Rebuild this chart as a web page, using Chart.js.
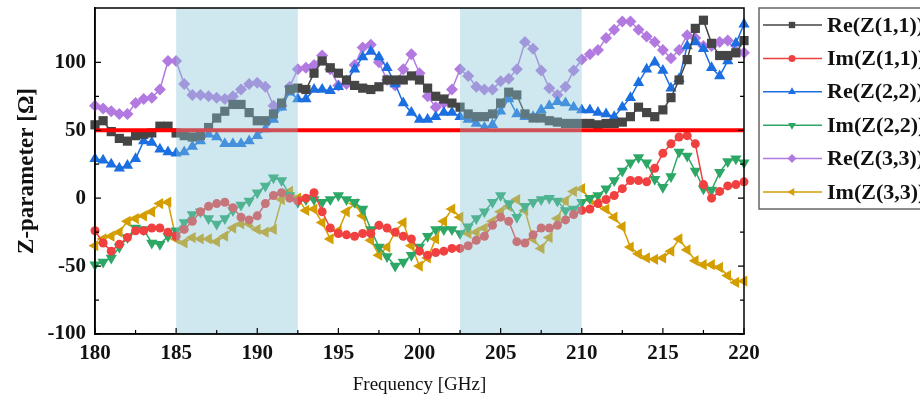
<!DOCTYPE html>
<html>
<head>
<meta charset="utf-8">
<script src="https://cdn.jsdelivr.net/npm/chart.js@4.4.0/dist/chart.umd.min.js"></script>
<style>
  html, body { margin: 0; padding: 0; background: #fff; overflow: hidden; }
  #wrap { width: 920px; height: 400px; }
</style>
</head>
<body>
<div id="wrap"><canvas id="zChart" width="920" height="400"></canvas></div>
<script>
  'use strict';

  // frequency points [GHz]
  var freq = [180, 180.5, 181, 181.5, 182, 182.5, 183, 183.5, 184, 184.5,
              185, 185.5, 186, 186.5, 187, 187.5, 188, 188.5, 189, 189.5,
              190, 190.5, 191, 191.5, 192, 192.5, 193, 193.5, 194, 194.5,
              195, 195.5, 196, 196.5, 197, 197.5, 198, 198.5, 199, 199.5,
              200, 200.5, 201, 201.5, 202, 202.5, 203, 203.5, 204, 204.5,
              205, 205.5, 206, 206.5, 207, 207.5, 208, 208.5, 209, 209.5,
              210, 210.5, 211, 211.5, 212, 212.5, 213, 213.5, 214, 214.5,
              215, 215.5, 216, 216.5, 217, 217.5, 218, 218.5, 219, 219.5, 220];

  var reZ11 = [54, 57, 49, 44, 42, 46, 47, 48, 53, 53,
               48, 46, 45, 46, 52, 59, 64, 69, 69, 63,
               57, 57, 62, 70, 80, 81, 80, 92, 101, 96,
               92, 87, 83, 81, 80, 82, 87, 87, 87, 90,
               87, 81, 75, 73, 70, 67, 62, 60, 60, 62,
               70, 78, 76, 62, 59, 59, 57, 56, 55, 55,
               55, 55, 54, 55, 55, 56, 60, 67, 63, 60,
               65, 74, 87, 102, 125, 131, 114, 105, 105, 107, 116];

  var imZ11 = [-24, -33, -39, -34, -29, -24, -24, -22, -22, -25,
               -28, -23, -17, -10, -6, -4, -3, -7, -14, -16,
               -13, -4, 2, 4, 0, -2, 0, 4, -10, -22,
               -26, -27, -28, -26, -26, -20, -22, -25, -28, -30,
               -39, -42, -40, -39, -37, -37, -35, -31, -28, -20,
               -14, -17, -32, -33, -27, -22, -22, -20, -16, -12,
               -9, -8, -4, -1, 2, 7, 13, 13, 12, 22,
               33, 40, 45, 46, 40, 10, 0, 5, 9, 10, 12];

  var reZ22 = [29, 28, 25, 22, 24, 29, 42, 41, 36, 34,
               33, 34, 38, 42, 47, 45, 40, 40, 40, 42,
               46, 51, 58, 67, 78, 73, 73, 80, 80, 79,
               82, 86, 95, 104, 108, 104, 96, 84, 70, 63,
               58, 58, 60, 63, 63, 60, 58, 55, 52, 54,
               64, 73, 62, 60, 60, 65, 68, 71, 70, 67,
               65, 65, 63, 62, 60, 67, 74, 85, 95, 100,
               94, 81, 88, 112, 115, 110, 96, 90, 101, 114, 128];

  var imZ22 = [-49, -47, -44, -36, -29, -22, -23, -33, -34, -28,
               -24, -18, -12, -10, -15, -19, -15, -9, -5, -2,
               4, 9, 15, 13, 2, -3, -1, -1, -3, -1,
               2, -1, -3, -8, -23, -36, -43, -50, -47, -42,
               -36, -28, -23, -23, -23, -26, -21, -15, -10, -3,
               2, -4, -14, -6, -3, -1, 0, -2, -9, -8,
               -3, 0, 2, 7, 13, 20, 26, 30, 26, 14,
               8, 16, 34, 31, 20, 7, 6, 19, 27, 29, 26];

  var reZ33 = [68, 66, 64, 62, 62, 70, 73, 74, 80, 101,
               101, 84, 76, 76, 75, 74, 73, 75, 80, 84,
               85, 82, 68, 68, 82, 95, 96, 98, 105, 95,
               83, 84, 98, 111, 113, 100, 87, 83, 95, 106,
               92, 75, 67, 70, 80, 95, 90, 82, 80, 80,
               86, 88, 95, 115, 110, 94, 81, 76, 82, 94,
               102, 106, 109, 118, 124, 130, 130, 124, 119, 115,
               109, 103, 109, 120, 118, 112, 112, 115, 116, 108, 107];

  var imZ33 = [-35, -30, -28, -25, -17, -15, -13, -10, -4, -3,
               -30, -33, -29, -30, -30, -32, -28, -22, -19, -19,
               -23, -25, -23, -1, 5, 0, -9, -8, -18, -30,
               -24, -10, -4, -13, -31, -42, -36, -25, -18, -35,
               -50, -44, -30, -17, -8, -14, -26, -25, -22, -17,
               -10, -6, -1, -9, -30, -37, -29, -15, -2, 5,
               7, -1, -4, -8, -14, -21, -36, -41, -44, -45,
               -44, -39, -30, -38, -46, -49, -49, -51, -57, -62, -61];

  var refLine = 50;                        // red reference line [Ohm]
  var bands = [[185, 192.5], [202.5, 210]]; // shaded bands [GHz]

  var serif = "'Liberation Serif', 'Times New Roman', serif";

  function series(label, values, color, style, rotation, radius) {
    return {
      label: label,
      data: values.map(function(v, i) { return {x: freq[i], y: v}; }),
      borderColor: color,
      backgroundColor: color,
      borderWidth: 1.5,
      pointStyle: style,
      pointRotation: rotation,
      pointRadius: radius,
      pointBorderWidth: 0,
      pointHoverRadius: radius,
      tension: 0,
      clip: false
    };
  }

  var datasets = [
    series('Re(Z(1,1))', reZ11, '#454545', 'rect', 0, 6.5),
    series('Im(Z(1,1))', imZ11, '#f0403f', 'circle', 0, 4.5),
    series('Re(Z(2,2))', reZ22, '#1c6fe0', 'triangle', 0, 6.5),
    series('Im(Z(2,2))', imZ22, '#2ca765', 'triangle', 180, 6.5),
    series('Re(Z(3,3))', reZ33, '#b27ae0', 'rectRot', 0, 6),
    series('Im(Z(3,3))', imZ33, '#d49e00', 'triangle', 270, 6.5)
  ];

  // ref line + shaded bands + frame and inward ticks
  var overlay = {
    id: 'overlay',
    afterDatasetsDraw: function(chart) {
      var ctx = chart.ctx;
      var a = chart.chartArea;
      var xs = chart.scales.x;
      var ys = chart.scales.y;
      ctx.save();

      var yRef = ys.getPixelForValue(refLine);
      ctx.strokeStyle = '#ff0000';
      ctx.lineWidth = 4;
      ctx.beginPath();
      ctx.moveTo(a.left, yRef);
      ctx.lineTo(a.right, yRef);
      ctx.stroke();

      ctx.fillStyle = 'rgba(135, 197, 215, 0.4)';
      bands.forEach(function(b) {
        var x0 = xs.getPixelForValue(b[0]);
        var x1 = xs.getPixelForValue(b[1]);
        ctx.fillRect(x0, a.top, x1 - x0, a.bottom - a.top);
      });

      ctx.strokeStyle = '#000';
      ctx.lineWidth = 1.5;
      ctx.strokeRect(a.left, a.top, a.right - a.left, a.bottom - a.top);

      ctx.lineWidth = 1.2;
      ctx.beginPath();
      ys.ticks.forEach(function(t) {
        var y = ys.getPixelForValue(t.value);
        var len = (t.value % 50 === 0) ? 6 : 4;
        ctx.moveTo(a.left, y); ctx.lineTo(a.left + len, y);
        ctx.moveTo(a.right, y); ctx.lineTo(a.right - len, y);
      });
      xs.ticks.forEach(function(t) {
        var x = xs.getPixelForValue(t.value);
        var len = (t.value % 5 === 0) ? 6 : 4;
        ctx.moveTo(x, a.bottom); ctx.lineTo(x, a.bottom - len);
      });
      ctx.stroke();
      ctx.restore();
    }
  };

  // legend box on the right, runs past the canvas edge like the original
  var sideLegend = {
    id: 'sideLegend',
    afterDraw: function(chart) {
      var ctx = chart.ctx;
      var left = 759, top = 8, rowH = 33.4;
      ctx.save();
      ctx.strokeStyle = '#666';
      ctx.lineWidth = 1.5;
      ctx.strokeRect(left, top, 200, 201);
      ctx.font = 'bold 22px ' + serif;
      ctx.textBaseline = 'middle';
      chart.data.datasets.forEach(function(ds, i) {
        var y = top + 17 + i * rowH;
        ctx.strokeStyle = ds.borderColor;
        ctx.fillStyle = ds.borderColor;
        ctx.lineWidth = 1.5;
        ctx.beginPath();
        ctx.moveTo(763, y);
        ctx.lineTo(822, y);
        ctx.stroke();
        Chart.helpers.drawPoint(ctx, {
          pointStyle: ds.pointStyle,
          rotation: ds.pointRotation,
          radius: ds.pointStyle === 'circle' ? 3.5 : 4.5,
          borderWidth: 0
        }, 792, y);
        ctx.fillStyle = '#111';
        ctx.fillText(ds.label, 827, y + 1);
      });
      ctx.restore();
    }
  };

  var ctxZ = document.getElementById('zChart').getContext('2d');
  var zChart = new Chart(ctxZ, {
    type: 'line',
    data: { datasets: datasets },
    options: {
      responsive: false,
      animation: false,
      layout: { padding: { left: 0, top: 8, right: 176, bottom: 0 } },
      plugins: {
        legend: { display: false },
        tooltip: { enabled: false }
      },
      scales: {
        x: {
          type: 'linear',
          min: 180,
          max: 220,
          grid: { display: false, drawTicks: false },
          border: { display: true, color: '#000', width: 1.5 },
          ticks: {
            stepSize: 2.5,
            autoSkip: false,
            maxRotation: 0,
            padding: 7,
            color: '#111',
            font: { family: serif, size: 21, weight: 'bold' },
            callback: function(v) { return v % 5 === 0 ? v : ''; }
          },
          title: {
            display: true,
            text: 'Frequency [GHz]',
            color: '#111',
            font: { family: serif, size: 19 },
            padding: { top: 10, bottom: 4 }
          },
          afterFit: function(s) {
            s.height = 66;
            s.paddingLeft = 0;
            s.paddingRight = 0;
          }
        },
        y: {
          type: 'linear',
          min: -100,
          max: 140,
          grid: { display: false, drawTicks: false },
          border: { display: true, color: '#000', width: 1.5 },
          ticks: {
            stepSize: 25,
            autoSkip: false,
            padding: 9,
            color: '#111',
            font: { family: serif, size: 21, weight: 'bold' },
            callback: function(v) { return v % 50 === 0 ? v : ''; }
          },
          afterBuildTicks: function(s) {
            s.ticks = s.ticks.filter(function(t) { return t.value % 25 === 0; });
          },
          title: {
            display: true,
            text: 'Z-parameter [Ω]',
            color: '#111',
            font: { family: serif, size: 23, weight: 'bold' },
            padding: { top: 13, bottom: 0 }
          },
          afterFit: function(s) {
            s.width = 95;
            s.paddingTop = 0;
            s.paddingBottom = 0;
          }
        }
      }
    },
    plugins: [overlay, sideLegend]
  });
</script>
</body>
</html>
